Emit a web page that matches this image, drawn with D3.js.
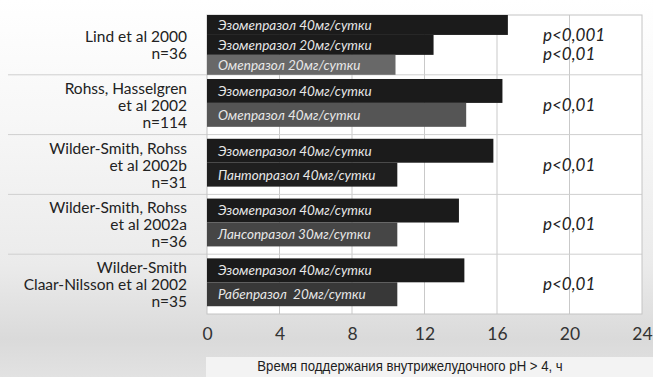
<!DOCTYPE html>
<html>
<head>
<meta charset="utf-8">
<script src="https://cdn.jsdelivr.net/npm/d3@7"></script>
<style>
  body { margin: 0; background: #fff; }
  svg { display: block; }
</style>
</head>
<body>
<svg id="chart" width="653" height="377"></svg>
<script>
// study labels (left column), one array of lines per group
const studyLines = [
  ["Lind et al 2000", "n=36"],
  ["Rohss, Hasselgren", "et al 2002", "n=114"],
  ["Wilder-Smith, Rohss", "et al 2002b", "n=31"],
  ["Wilder-Smith, Rohss", "et al 2002a", "n=36"],
  ["Wilder-Smith", "Claar-Nilsson et al 2002", "n=35"]
];

const barLabels = [
  ["Эзомепразол 40мг/сутки", "Эзомепразол 20мг/сутки", "Омепразол 20мг/сутки"],
  ["Эзомепразол 40мг/сутки", "Омепразол 40мг/сутки"],
  ["Эзомепразол 40мг/сутки", "Пантопразол 40мг/сутки"],
  ["Эзомепразол 40мг/сутки", "Лансопразол 30мг/сутки"],
  ["Эзомепразол 40мг/сутки", "Рабепразол  20мг/сутки"]
];

const barValues = [
  [16.6, 12.5, 10.4],
  [16.3, 14.3],
  [15.8, 10.5],
  [13.9, 10.5],
  [14.2, 10.5]
];

const pValues = [
  ["p<0,001", "p<0,01"],
  ["p<0,01"],
  ["p<0,01"],
  ["p<0,01"],
  ["p<0,01"]
];

const xTicks = [0, 4, 8, 12, 16, 20, 24];
const xTitle = "Время поддержания внутрижелудочного pH > 4, ч";

// bar fills per group (style)
const barFills = [
  ["#1b1b1b", "#1b1b1b", "#686868"],
  ["#1b1b1b", "#555555"],
  ["#1b1b1b", "#1f1f1f"],
  ["#1b1b1b", "#464646"],
  ["#1b1b1b", "#383838"]
];

const svg = d3.select("#chart");
const W = 653, H = 377;
const plot = { left: 207, right: 642, top: 15, bottom: 314 };
const font = "Lato, 'Open Sans', sans-serif";

const defs = svg.append("defs");
const grad = defs.append("linearGradient")
  .attr("id", "bg").attr("x1", 0).attr("y1", 0).attr("x2", 0).attr("y2", 1);
grad.append("stop").attr("offset", "0%").attr("stop-color", "#ffffff");
grad.append("stop").attr("offset", "35%").attr("stop-color", "#f6f6f6");
grad.append("stop").attr("offset", "70%").attr("stop-color", "#ebebeb");
grad.append("stop").attr("offset", "90%").attr("stop-color", "#dadada");
grad.append("stop").attr("offset", "100%").attr("stop-color", "#e2e2e2");

svg.append("rect").attr("width", W).attr("height", H).attr("fill", "url(#bg)");

// lighter box behind the axis title
svg.append("rect")
  .attr("x", 206).attr("y", 357).attr("width", W - 206).attr("height", H - 357)
  .attr("fill", "#f3f3f3");

const x = d3.scaleLinear().domain([0, 24]).range([plot.left, plot.right]);
const y = d3.scaleBand()
  .domain(d3.range(studyLines.length))
  .range([plot.top, plot.bottom]);

// plot background
svg.append("rect")
  .attr("x", plot.left).attr("y", plot.top)
  .attr("width", plot.right - plot.left).attr("height", plot.bottom - plot.top)
  .attr("fill", "#fff");

// vertical grid
svg.append("g")
  .selectAll("line")
  .data(xTicks.slice(1, -1))
  .join("line")
  .attr("x1", d => x(d)).attr("x2", d => x(d))
  .attr("y1", plot.top).attr("y2", plot.bottom)
  .attr("stroke", "#c9c9c9").attr("stroke-width", 1);

// group separators
svg.append("g")
  .selectAll("line")
  .data(d3.range(1, studyLines.length))
  .join("line")
  .attr("x1", 8).attr("x2", plot.right)
  .attr("y1", d => y(d)).attr("y2", d => y(d))
  .attr("stroke", "#cfcfcf").attr("stroke-width", 1);

// plot frame
svg.append("rect")
  .attr("x", plot.left).attr("y", plot.top)
  .attr("width", plot.right - plot.left).attr("height", plot.bottom - plot.top)
  .attr("fill", "none").attr("stroke", "#c4c4c4").attr("stroke-width", 1);

// bars
const groups = svg.append("g")
  .selectAll("g.grp")
  .data(barValues)
  .join("g")
  .attr("class", "grp")
  .attr("transform", (d, i) => `translate(0,${y(i)})`);

groups.each(function (vals, gi) {
  const inner = d3.scaleBand()
    .domain(d3.range(vals.length))
    .range([0, y.bandwidth()])
    .paddingInner(0)
    .paddingOuter(vals.length > 2 ? 0 : 0.25)
    .align(0.35);

  const g = d3.select(this);
  g.selectAll("rect")
    .data(vals)
    .join("rect")
    .attr("x", x(0))
    .attr("y", (d, i) => inner(i))
    .attr("width", d => x(d) - x(0))
    .attr("height", inner.bandwidth())
    .attr("fill", (d, i) => barFills[gi][i]);

  g.selectAll("text")
    .data(barLabels[gi])
    .join("text")
    .attr("x", x(0) + 11)
    .attr("y", (d, i) => inner(i) + inner.bandwidth() / 2)
    .attr("dy", "0.36em")
    .attr("fill", "#e8e8e8")
    .style("font-family", font)
    .style("font-style", "italic")
    .style("font-size", "13.5px")
    .style("white-space", "pre")
    .text(d => d);
});

// study labels
const labels = svg.append("g")
  .selectAll("text")
  .data(studyLines)
  .join("text")
  .attr("text-anchor", "end")
  .attr("fill", "#222")
  .style("font-family", font)
  .style("font-size", "15.5px");

labels.each(function (lines, i) {
  const cy = y(i) + y.bandwidth() / 2;
  const step = 17;
  d3.select(this).selectAll("tspan")
    .data(lines)
    .join("tspan")
    .attr("x", 187)
    .attr("y", (d, j) => cy + (j - (lines.length - 1) / 2) * step + 6)
    .text(d => d);
});

// p-values
const pTexts = svg.append("g")
  .selectAll("text")
  .data(pValues)
  .join("text")
  .attr("fill", "#222")
  .style("font-family", font)
  .style("font-style", "italic")
  .style("font-size", "17px");

pTexts.each(function (lines, i) {
  const cy = y(i) + y.bandwidth() / 2;
  d3.select(this).selectAll("tspan")
    .data(lines)
    .join("tspan")
    .attr("x", 543)
    .attr("y", (d, j) => cy + (j - (lines.length - 1) / 2) * 19 + 6)
    .text(d => d);
});

// x axis
const xAxis = svg.append("g")
  .attr("transform", `translate(0,${plot.bottom})`)
  .call(d3.axisBottom(x).tickValues(xTicks).tickSize(0).tickPadding(14));
xAxis.select(".domain").remove();
xAxis.selectAll("text")
  .attr("fill", "#333")
  .style("font-family", font)
  .style("font-size", "17.5px");

svg.append("text")
  .attr("transform", "translate(410,371) scale(0.88,1)")
  .attr("text-anchor", "middle")
  .attr("fill", "#1e1e1e")
  .style("font-family", "'Liberation Sans', Arial, sans-serif")
  .style("font-size", "15px")
  .text(xTitle);
</script>
</body>
</html>
